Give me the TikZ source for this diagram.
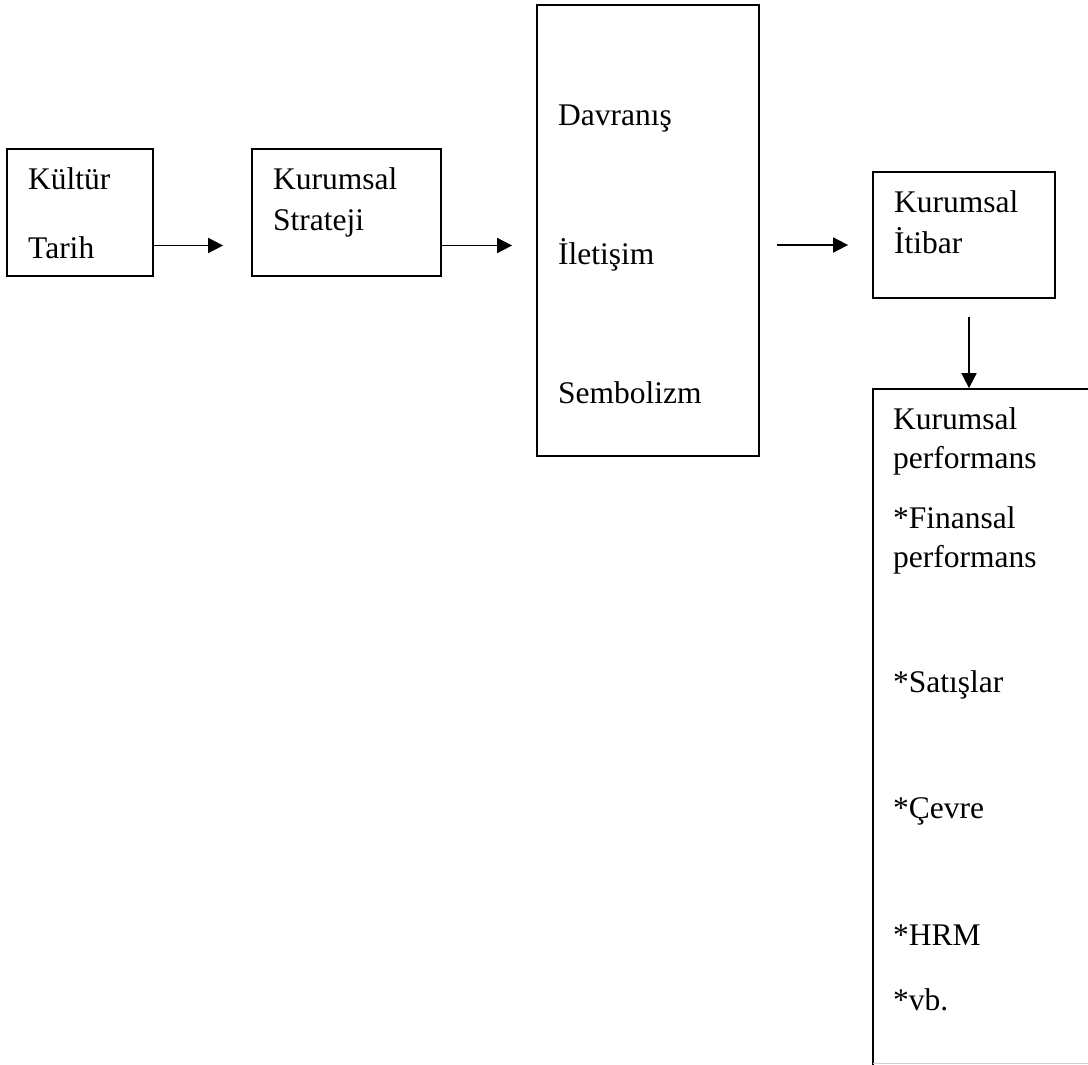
\documentclass[tikz,border=0pt]{standalone}
\usepackage{fontspec}
\setmainfont{Liberation Serif}
\usetikzlibrary{arrows.meta}
\begin{document}
\begin{tikzpicture}[x=1pt,y=-1pt,
  box/.style={draw, line width=1.8pt, inner sep=0pt},
  lbl/.style={anchor=base west, inner sep=0pt, font=\fontsize{31.5}{38}\selectfont},
  arr/.style={line width=1.8pt, -{Triangle[length=15pt,width=15pt]}}]
\useasboundingbox (0,0) rectangle (1088,1065);
\clip (0,0) rectangle (1088,1065);
% boxes
\node[box, minimum width=146pt, minimum height=127pt] (b1) at (80,212.5) {};
\node[box, minimum width=189pt, minimum height=127pt] (b2) at (346.5,212.5) {};
\node[box, minimum width=222pt, minimum height=451pt] (b3) at (648,230.5) {};
\node[box, minimum width=182pt, minimum height=126pt] (b4) at (964,235) {};
\node[box, minimum width=260pt, minimum height=720pt] (b5) at (1003,749) {};
\draw[gray!35, line width=1.5pt] (873,1063.5) -- (1088,1063.5);
% labels
\node[lbl] (t1a) at (28,189) {Kültür};
\node[lbl] (t1b) at (28,258) {Tarih};
\node[lbl] (t2a) at (273,189) {Kurumsal};
\node[lbl] (t2b) at (273,230) {Strateji};
\node[lbl] (t3a) at (558,125) {Davranış};
\node[lbl] (t3b) at (558,264) {İletişim};
\node[lbl] (t3c) at (558,403) {Sembolizm};
\node[lbl] (t4a) at (894,212) {Kurumsal};
\node[lbl] (t4b) at (894,253) {İtibar};
\node[lbl] (t5a) at (893,429) {Kurumsal};
\node[lbl] (t5b) at (893,468) {performans};
\node[lbl] (t5c) at (893,528) {*Finansal};
\node[lbl] (t5d) at (893,567) {performans};
\node[lbl] (t5e) at (893,692) {*Satışlar};
\node[lbl] (t5f) at (893,818) {*Çevre};
\node[lbl] (t5g) at (893,945) {*HRM};
\node[lbl] (t5h) at (893,1010) {*vb.};
% connectors
\draw[arr, shorten >=28pt] ([yshift=-33pt]b1.east) -- ([yshift=-33pt]b1.east -| b2.west);
\draw[arr, shorten >=24pt] ([yshift=-33pt]b2.east) -- ([yshift=-33pt]b2.east -| b3.west);
\draw[arr, shorten <=17pt, shorten >=24pt] ([yshift=-10pt]b4.west -| b3.east) -- ([yshift=-10pt]b4.west);
\draw[arr, shorten <=18pt] ([xshift=5pt]b4.south) -- ([xshift=5pt]b4.south |- b5.north);
\end{tikzpicture}
\end{document}
